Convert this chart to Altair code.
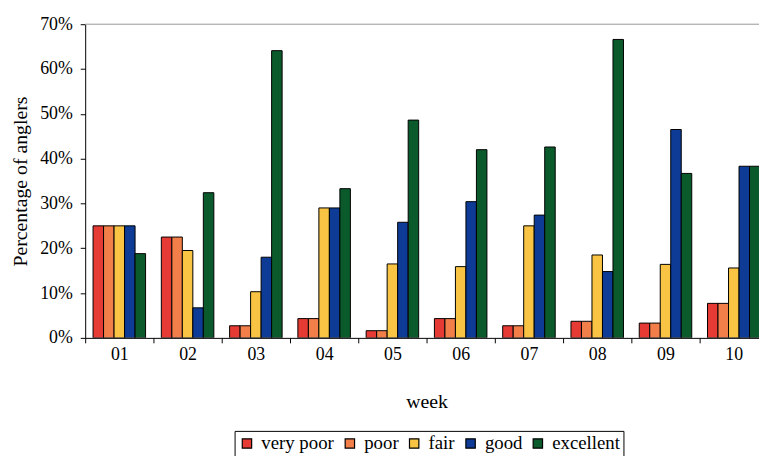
import altair as alt
import pandas as pd

weeks = ["01", "02", "03", "04", "05", "06", "07", "08", "09", "10"]
ratings = ["very poor", "poor", "fair", "good", "excellent"]
very_poor = [25.0, 22.5, 2.7, 4.3, 1.6, 4.3, 2.7, 3.7, 3.3, 7.7]
poor = [25.0, 22.5, 2.7, 4.3, 1.6, 4.3, 2.7, 3.7, 3.3, 7.7]
fair = [25.0, 19.5, 10.3, 29.0, 16.5, 15.9, 25.0, 18.5, 16.4, 15.6]
good = [25.0, 6.7, 18.0, 29.0, 25.8, 30.4, 27.4, 14.8, 46.5, 38.3]
excellent = [18.8, 32.4, 64.1, 33.3, 48.6, 42.0, 42.6, 66.6, 36.7, 38.3]
colors = ["#e63b34", "#f27e4a", "#f9c443", "#0d3b96", "#0b5a2c"]

series = [very_poor, poor, fair, good, excellent]
rows = []
for r, vals in zip(ratings, series):
    for w, v in zip(weeks, vals):
        rows.append({"week": w, "rating": r, "value": v})
df = pd.DataFrame(rows)

FONT = "Liberation Serif"

bars = alt.Chart(df).mark_bar(stroke="black", strokeWidth=1, clip=True).encode(
    x=alt.X("week:N", sort=weeks,
            scale=alt.Scale(range=[0, 690], paddingInner=0, paddingOuter=0),
            axis=alt.Axis(title="week", labelAngle=0, tickBand="extent",
                          domainColor="black", tickColor="black", tickSize=5,
                          labelPadding=3, titlePadding=28,
                          labelFont=FONT, labelFontSize=18, labelColor="black",
                          titleFont=FONT, titleFontSize=20, titleFontWeight="normal",
                          titleColor="black")),
    xOffset=alt.XOffset("rating:N", sort=ratings,
                        scale=alt.Scale(paddingOuter=0.75, paddingInner=0)),
    y=alt.Y("value:Q", scale=alt.Scale(domain=[0, 70], nice=False),
            axis=alt.Axis(title="Percentage of anglers", values=[0, 10, 20, 30, 40, 50, 60, 70],
                          labelExpr="datum.value + '%'", grid=False,
                          domainColor="black", tickColor="black", tickSize=5,
                          labelPadding=8, titlePadding=9,
                          labelFont=FONT, labelFontSize=18, labelColor="black",
                          titleFont=FONT, titleFontSize=20, titleFontWeight="normal",
                          titleColor="black")),
    color=alt.Color("rating:N", sort=ratings,
                    scale=alt.Scale(domain=ratings, range=colors),
                    legend=alt.Legend(title=None, orient="none", direction="horizontal",
                                      legendX=151, legendY=411,
                                      strokeColor="black", padding=3,
                                      symbolType="square", symbolSize=90,
                                      symbolStrokeColor="black", symbolStrokeWidth=1.2,
                                      symbolOpacity=1,
                                      labelFont=FONT, labelFontSize=19, labelColor="black",
                                      labelOffset=5, columnPadding=6)),
)

top_line = alt.Chart(pd.DataFrame({"y": [70]})).mark_rule(color="#999999", strokeWidth=1).encode(
    y=alt.Y("y:Q")
)

chart = alt.layer(bars, top_line).properties(
    width=681, height=317,
    autosize=alt.AutoSizeParams(type="none"),
    padding={"left": 78, "top": 14, "right": 0, "bottom": 117},
).configure_view(stroke=None)

chart.save("out.html", embed_options={"renderer": "svg", "actions": False})
